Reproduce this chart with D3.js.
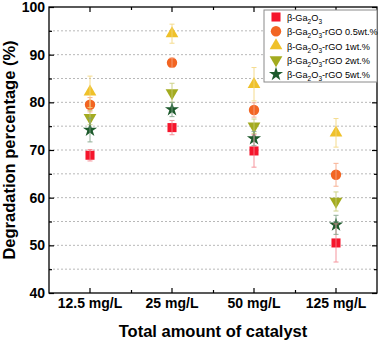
<!DOCTYPE html>
<html>
<head>
<meta charset="utf-8">
<script src="https://cdn.jsdelivr.net/npm/d3@7"></script>
<style>
  html, body { margin: 0; padding: 0; background: #fff; }
  svg { display: block; font-family: Arial, "Liberation Sans", sans-serif; }
</style>
</head>
<body>
<svg id="chart" width="382" height="344"></svg>
<script>
// categories on the x axis
const categories = ["12.5 mg/L", "25 mg/L", "50 mg/L", "125 mg/L"];

// degradation (%) per sample, one value per category
const pureGa2O3   = [68.9, 74.7, 69.8, 50.5];
const rGO05       = [79.5, 88.3, 78.4, 64.8];
const rGO1        = [82.2, 94.4, 83.8, 73.6];
const rGO2        = [76.8, 82.0, 75.0, 59.2];
const rGO5        = [74.2, 78.5, 72.4, 54.3];

// error bar half widths
const pureGa2O3Err = [1.2, 1.5, 3.4, 4.0];
const rGO05Err     = [1.5, 1.0, 1.5, 2.4];
const rGO1Err      = [3.3, 2.0, 3.5, 3.0];
const rGO2Err      = [1.5, 2.0, 1.5, 2.0];
const rGO5Err      = [2.5, 1.5, 1.5, 2.0];

const yTicks = [40, 50, 60, 70, 80, 90, 100];
const yMinorTicks = [45, 55, 65, 75, 85, 95];

const series = [
  { suffix: "",              values: pureGa2O3, err: pureGa2O3Err, color: "#f5162c", bar: "#f5838d", shape: d3.symbolSquare,   size: 82, rot: 0 },
  { suffix: "-rGO 0.5wt.%",  values: rGO05,     err: rGO05Err,     color: "#f26522", bar: "#f7a482", shape: d3.symbolCircle,   size: 85, rot: 0 },
  { suffix: "-rGO 1wt.%",    values: rGO1,      err: rGO1Err,      color: "#efc12a", bar: "#f4d77c", shape: d3.symbolTriangle, size: 70, rot: 0 },
  { suffix: "-rGO 2wt.%",    values: rGO2,      err: rGO2Err,      color: "#a3ab1f", bar: "#c6cb74", shape: d3.symbolTriangle, size: 70, rot: 180 },
  { suffix: "-rGO 5wt.%",    values: rGO5,      err: rGO5Err,      color: "#1d5a2c", bar: "#7fa186", shape: d3.symbolStar,     size: 62, rot: 0 }
];

const margin = { top: 7, right: 5, bottom: 51, left: 49 };
const width = 382, height = 344;
const x0 = margin.left, x1 = width - margin.right;
const y0 = height - margin.bottom, y1 = margin.top;

const svg = d3.select("#chart");

const x = d3.scaleBand().domain(categories).range([x0, x1]);
const xBound = d3.scaleLinear().domain([0, categories.length]).range([x0, x1]);
const y = d3.scaleLinear().domain([40, 100]).range([y0, y1]);

// dotted grid lines
svg.append("g")
  .selectAll("line")
  .data(d3.range(45, 100, 5))
  .join("line")
  .attr("x1", x0).attr("x2", x1)
  .attr("y1", d => y(d)).attr("y2", d => y(d))
  .attr("stroke", "#b8b8b8")
  .attr("stroke-width", 1)
  .attr("stroke-dasharray", "2,2");

// axes (ticks point inward)
const axisStyle = g => {
  g.select(".domain").remove();
  g.selectAll(".tick line").attr("stroke", "#000").attr("stroke-width", 1.2);
  g.selectAll(".tick text").attr("fill", "#000").attr("font-size", "14px").attr("font-weight", "bold").attr("font-family", "Arial, 'Liberation Sans', sans-serif");
};

svg.append("g").attr("transform", `translate(${x0},0)`)
  .call(d3.axisLeft(y).tickValues(yTicks).tickSize(-5).tickPadding(4)).call(axisStyle);
svg.append("g").attr("transform", `translate(${x0},0)`)
  .call(d3.axisLeft(y).tickValues(yMinorTicks).tickSize(-3).tickFormat("")).call(axisStyle);
svg.append("g").attr("transform", `translate(${x1},0)`)
  .call(d3.axisRight(y).tickValues(yTicks).tickSize(-5).tickFormat("")).call(axisStyle);
svg.append("g").attr("transform", `translate(${x1},0)`)
  .call(d3.axisRight(y).tickValues(yMinorTicks).tickSize(-3).tickFormat("")).call(axisStyle);

svg.append("g").attr("transform", `translate(0,${y0})`)
  .call(d3.axisBottom(x).tickSize(-5).tickPadding(5)).call(axisStyle);
svg.append("g").attr("transform", `translate(0,${y0})`)
  .call(d3.axisBottom(xBound).tickValues([1, 2, 3]).tickSize(-3).tickFormat("")).call(axisStyle);
svg.append("g").attr("transform", `translate(0,${y1})`)
  .call(d3.axisTop(x).tickSize(-5).tickFormat("")).call(axisStyle);
svg.append("g").attr("transform", `translate(0,${y1})`)
  .call(d3.axisTop(xBound).tickValues([1, 2, 3]).tickSize(-3).tickFormat("")).call(axisStyle);

// frame
svg.append("rect")
  .attr("x", x0).attr("y", y1)
  .attr("width", x1 - x0).attr("height", y0 - y1)
  .attr("fill", "none").attr("stroke", "#000").attr("stroke-width", 1.3);

// markers
const plot = svg.append("g");
series.forEach(s => {
  const g = plot.append("g");
  const cx = (d, i) => x(categories[i]) + x.bandwidth() / 2;
  g.selectAll("path.m")
    .data(s.values)
    .join("path")
    .attr("class", "m")
    .attr("d", d3.symbol().type(s.shape).size(s.size))
    .attr("transform", (d, i) => `translate(${cx(d, i)},${y(d)}) rotate(${s.rot})`)
    .attr("fill", s.color);
});

// error bars on top, translucent
series.forEach(s => {
  const g = plot.append("g").attr("stroke", s.bar).attr("stroke-width", 1).attr("opacity", 0.85);
  s.values.forEach((v, i) => {
    const cx = x(categories[i]) + x.bandwidth() / 2;
    const lo = y(v - s.err[i]), hi = y(v + s.err[i]);
    g.append("line").attr("x1", cx).attr("x2", cx).attr("y1", lo).attr("y2", hi);
    g.append("line").attr("x1", cx - 2.5).attr("x2", cx + 2.5).attr("y1", lo).attr("y2", lo);
    g.append("line").attr("x1", cx - 2.5).attr("x2", cx + 2.5).attr("y1", hi).attr("y2", hi);
  });
});

// legend
const legend = svg.append("g").attr("transform", "translate(264,10)");
legend.append("rect")
  .attr("width", 113).attr("height", 72)
  .attr("fill", "#fff").attr("stroke", "#8a8a8a").attr("stroke-width", 1);

series.forEach((s, i) => {
  const row = legend.append("g").attr("transform", `translate(0,${7 + i * 14.3})`);
  row.append("path")
    .attr("d", d3.symbol().type(s.shape).size(s.size))
    .attr("transform", `translate(12,0) rotate(${s.rot})`)
    .attr("fill", s.color);
  const t = row.append("text")
    .attr("x", 23).attr("y", 4)
    .attr("font-size", "9.2px")
    .attr("fill", "#000");
  t.append("tspan").text("β-Ga");
  t.append("tspan").attr("font-size", "6.5px").attr("dy", 3).text("2");
  t.append("tspan").attr("dy", -3).text("O");
  t.append("tspan").attr("font-size", "6.5px").attr("dy", 3).text("3");
  t.append("tspan").attr("dy", -3).text(s.suffix);
});

// axis titles
svg.append("text")
  .attr("x", (x0 + x1) / 2).attr("y", 337)
  .attr("text-anchor", "middle")
  .attr("font-size", "16.5px").attr("font-weight", "bold")
  .text("Total amount of catalyst");

svg.append("text")
  .attr("transform", `translate(15,${(y0 + y1) / 2}) rotate(-90)`)
  .attr("text-anchor", "middle")
  .attr("font-size", "16.5px").attr("font-weight", "bold")
  .text("Degradation percentage (%)");
</script>
</body>
</html>
